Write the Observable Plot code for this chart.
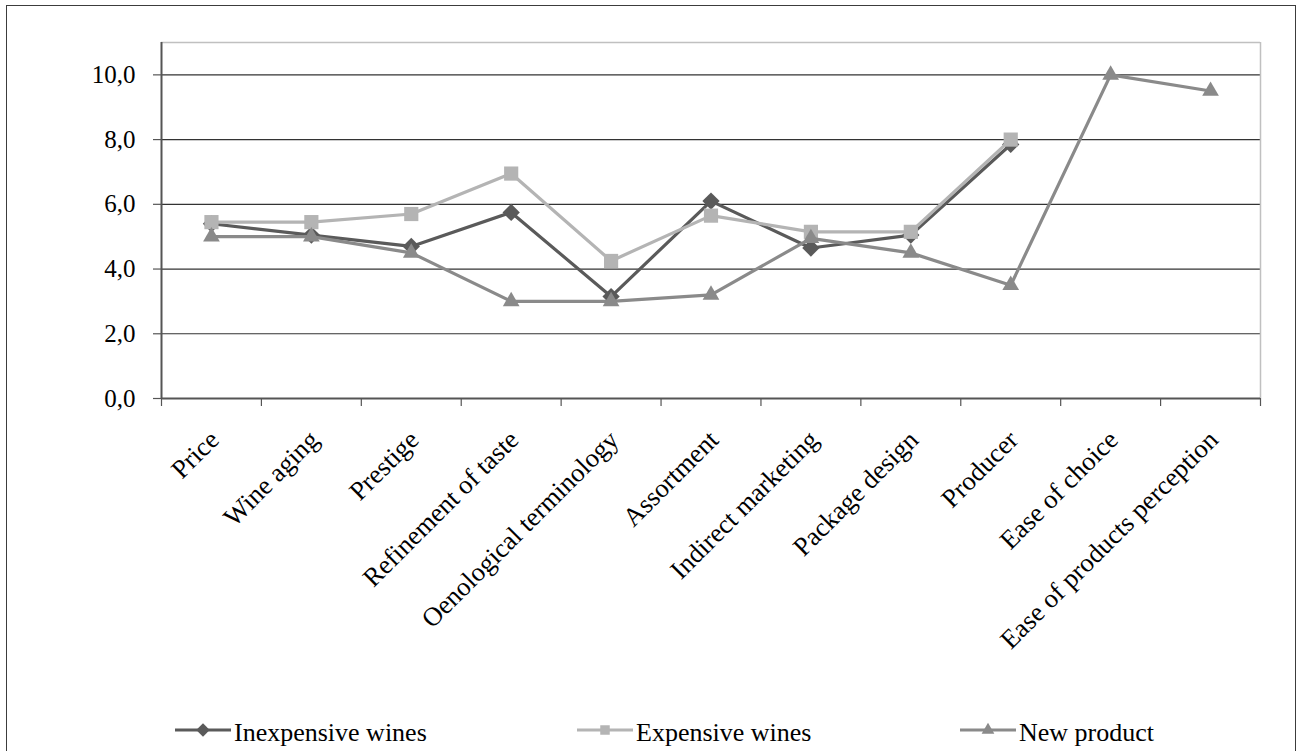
<!DOCTYPE html>
<html>
<head>
<meta charset="utf-8">
<script src="https://cdn.jsdelivr.net/npm/d3@7"></script>
<script src="https://cdn.jsdelivr.net/npm/@observablehq/plot@0.6"></script>
<style>
  html, body { margin: 0; padding: 0; background: #fff; }
  body { width: 1297px; height: 751px; position: relative; overflow: hidden; font-family: "Liberation Serif", serif; }
  #frame { position: absolute; left: 6px; top: 5px; width: 1288px; height: 800px; border: 1.5px solid #3c3c3c; border-bottom: none; }
  #chart { position: absolute; left: 0; top: 0; }
  #legend { position: absolute; left: 0; top: 712px; }
</style>
</head>
<body>
<div id="frame"></div>
<div id="chart"></div>
<div id="legend"></div>
<script>
const categories = ["Price", "Wine aging", "Prestige", "Refinement of taste", "Oenological terminology", "Assortment", "Indirect marketing", "Package design", "Producer", "Ease of choice", "Ease of products perception"];
const inexpensive = [5.4, 5.05, 4.7, 5.75, 3.15, 6.1, 4.65, 5.05, 7.85, null, null];
const expensive = [5.45, 5.45, 5.7, 6.95, 4.25, 5.65, 5.15, 5.15, 8.0, null, null];
const newProduct = [5.0, 5.0, 4.5, 3.0, 3.0, 3.2, 4.95, 4.5, 3.5, 10.0, 9.5];
const seriesNames = ["Inexpensive wines", "Expensive wines", "New product"];
const seriesColors = ["#5a5a5a", "#b4b4b4", "#8a8a8a"];
const yTicks = [0, 2, 4, 6, 8, 10];

const diamondSym = {draw(ctx, size) { const h = Math.sqrt(size / 2); ctx.moveTo(0, -h); ctx.lineTo(h, 0); ctx.lineTo(0, h); ctx.lineTo(-h, 0); ctx.closePath(); }};
const symbols = [diamondSym, "square", "triangle"];
const radii = [6.9, 8.0, 6.2];

const allSeries = [inexpensive, expensive, newProduct];
const tables = allSeries.map((vals, s) => vals.map((v, i) => ({i, v, series: seriesNames[s]})).filter(d => d.v != null));

const boundaries = d3.range(-0.5, categories.length, 1);

const seriesMarks = tables.flatMap((t, s) => [
  Plot.line(t, {x: "i", y: "v", stroke: seriesColors[s], strokeWidth: 3.2}),
  Plot.dot(t, {x: "i", y: "v", fill: seriesColors[s], stroke: "none", symbol: symbols[s], r: radii[s]})
]);

const chart = Plot.plot({
  width: 1297,
  height: 712,
  marginLeft: 161,
  marginRight: 37,
  marginTop: 42,
  marginBottom: 314,
  style: {fontFamily: "'Liberation Serif', serif", background: "transparent", color: "#000"},
  x: {type: "linear", domain: [-0.5, categories.length - 0.5]},
  y: {domain: [0, 11]},
  marks: [
    Plot.ruleY(yTicks.filter(d => d > 0), {stroke: "#333", strokeWidth: 1.2}),
    Plot.ruleY([11], {stroke: "#c0c0c0", strokeWidth: 1.5}),
    Plot.ruleX([categories.length - 0.5], {stroke: "#c0c0c0", strokeWidth: 1.5}),
    Plot.axisY({ticks: yTicks, tickFormat: d => d.toFixed(1).replace(".", ","), tickSize: 8, tickPadding: 18, fontSize: 25, stroke: "#555", strokeWidth: 1.2, label: null, fontFamily: "'Liberation Serif', serif"}),
    Plot.axisX({ticks: boundaries, tickFormat: () => "", tickSize: 8, stroke: "#555", strokeWidth: 1.2, label: null}),
    Plot.ruleX([-0.5], {stroke: "#555", strokeWidth: 2}),
    Plot.ruleY([0], {stroke: "#555", strokeWidth: 2}),
    ...seriesMarks,
    Plot.text(categories, {x: (d, i) => i, y: () => 0, text: d => d, rotate: -45, textAnchor: "end", dx: 3, dy: 37, fontSize: 26.5, fill: "#000", fontFamily: "'Liberation Serif', serif"})
  ]
});
document.getElementById("chart").appendChild(chart);

// Legend below the chart
const legendX = [175, 577, 960];
const lg = d3.select("#legend").append("svg").attr("width", 1297).attr("height", 39)
  .style("font-family", "'Liberation Serif', serif");
const legendSyms = [diamondSym, d3.symbolSquare, d3.symbolTriangle];
const legendSizes = [90, 90, 70];
seriesNames.forEach((name, s) => {
  const g = lg.append("g").attr("transform", `translate(${legendX[s]},18)`);
  g.append("line").attr("x1", 0).attr("x2", 56).attr("y1", 0).attr("y2", 0)
    .attr("stroke", seriesColors[s]).attr("stroke-width", 3.2);
  g.append("path").attr("transform", "translate(28,0)")
    .attr("d", d3.symbol(legendSyms[s], legendSizes[s])())
    .attr("fill", seriesColors[s]);
  g.append("text").attr("x", 59).attr("y", 11).attr("font-size", 26).attr("fill", "#000").text(name);
});
</script>
</body>
</html>
